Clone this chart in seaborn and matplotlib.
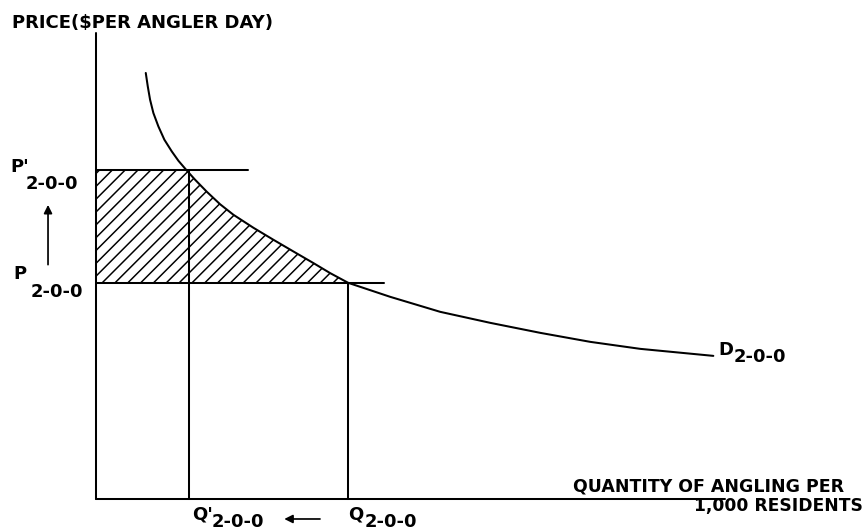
# Demand for angling: price rise from P to P' cuts quantity from Q to Q'
import numpy as np
import pandas as pd
import matplotlib
matplotlib.use("Agg")
import matplotlib.pyplot as plt
import seaborn as sns

# Demand curve D 2-0-0 (quantity, price)
demand_q = [4.97, 5.17, 5.4, 5.73, 6.23, 6.83, 7.57, 8.23, 9.0, 9.9, 11.07, 12.4, 13.73,
            15.73, 17.73, 19.73, 21.73, 23.4, 25.2, 29.4, 34.4, 39.4, 44.4, 49.4, 54.4, 61.7]
demand_p = [42.57, 41.23, 39.9, 38.57, 37.23, 35.9, 34.73, 33.8, 32.9, 31.9, 30.7, 29.45, 28.4,
            27.1, 25.9, 24.73, 23.57, 22.57, 21.6, 20.2, 18.7, 17.6, 16.6, 15.7, 15.0, 14.3]

# Price and quantity levels
p_old, p_new = 21.6, 32.9
q_old, q_new = 25.2, 9.3

# Axis extents
y_top = 46.6
x_end = 62.9

DPI = 77
sns.set_style("white")
plt.rcParams["font.family"] = ["DejaVu Sans"]
plt.rcParams["hatch.linewidth"] = 1.4

fig = plt.figure(figsize=(864.4 / DPI, 532.4 / DPI), dpi=DPI)
ax = fig.add_axes([0, 0, 1, 1])
ax.set_xlim(-9.6, 76.8)
ax.set_ylim(-3.3, 49.9)
ax.set_axis_off()

lw = 1.9
# axes
ax.plot([0, 0], [0, y_top], color="black", lw=lw)
ax.plot([0, x_end], [0, 0], color="black", lw=lw)

# demand curve
curve = pd.DataFrame({"q": demand_q, "p": demand_p})
sns.lineplot(data=curve, x="q", y="p", sort=False, estimator=None, color="black", lw=lw, ax=ax)

# consumer surplus lost (hatched)
p_grid = np.linspace(p_old, p_new, 80)
q_curve = np.interp(p_grid, demand_p[::-1], demand_q[::-1])
ax.fill_betweenx(p_grid, 0, q_curve, facecolor="none", edgecolor="black", hatch="//", linewidth=0)

# price and quantity lines
ax.plot([0, 15.2], [p_new, p_new], color="black", lw=lw)
ax.plot([0, 28.8], [p_old, p_old], color="black", lw=lw)
ax.plot([q_new, q_new], [0, p_new], color="black", lw=lw)
ax.plot([q_old, q_old], [0, p_old], color="black", lw=lw)

# arrows
arrow = dict(arrowstyle="-|>", color="black", lw=1.6, mutation_scale=16)
ax.annotate("", xy=(-4.8, 29.6), xytext=(-4.8, 23.2), arrowprops=arrow)
ax.annotate("", xy=(18.6, -2.0), xytext=(22.6, -2.0), arrowprops=arrow)

fs = 16.8
lab = dict(fontsize=fs, va="center", ha="left", color="black", fontweight="bold")
ax.text(-8.4, 47.6, "PRICE(\\$PER ANGLER DAY)", **lab)
ax.text(47.7, 1.3, "QUANTITY OF ANGLING PER", fontsize=16.3, va="center", ha="left",
        fontweight="bold", color="black")
ax.text(76.6, -0.7, "1,000 RESIDENTS", fontsize=16.0, va="center", ha="right",
        fontweight="bold", color="black")

ax.text(-8.6, 33.2, "P'", **lab)
ax.text(-7.0, 31.5, "2-0-0", **lab)
ax.text(-8.3, 22.5, "P", **lab)
ax.text(-6.5, 20.7, "2-0-0", **lab)
ax.text(9.6, -1.5, "Q'", **lab)
ax.text(11.6, -2.3, "2-0-0", **lab)
ax.text(25.2, -1.5, "Q", **lab)
ax.text(26.8, -2.3, "2-0-0", **lab)
ax.text(62.2, 14.9, "D", **lab)
ax.text(63.7, 14.2, "2-0-0", **lab)

fig.savefig("out.png", dpi=DPI)
